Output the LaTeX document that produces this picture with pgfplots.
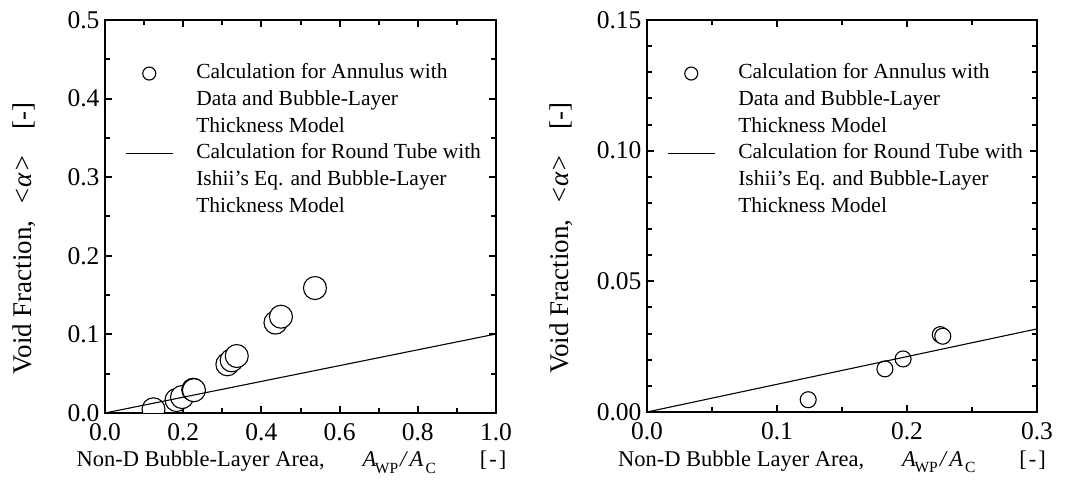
\documentclass[border=0pt]{standalone}
\usepackage{fontspec}
\setmainfont{Liberation Serif}
\usepackage{pgfplots}
\pgfplotsset{compat=1.18}

\newcommand{\subsc}[1]{\raisebox{-6.5pt}{\fontsize{15.5}{15.5}\selectfont #1}}
\newcommand{\AWPC}{\textit{A}\kern-1.5pt\subsc{WP}\kern2pt\textit{/}\kern1.5pt\textit{A}\kern2pt\subsc{C}}
\newcommand{\yl}{Void Fraction,\hspace{15pt}\textit{<α>}\hspace{25pt}[-]}

\pgfplotsset{
  mystyle/.style={
    scale only axis,
    axis line style={line width=2.2pt},
    every tick/.style={black, line width=2pt},
    major tick length=7pt,
    minor tick length=5pt,
    tick align=inside,
    xtick pos=both, ytick pos=both,
    /pgf/number format/assume math mode=true,
    /pgf/number format/fixed,
    /pgf/number format/fixed zerofill,
    tick label style={font=\fontsize{25.5}{30}\selectfont},
    xlabel style={font=\fontsize{22.5}{27}\selectfont},
    ylabel style={font=\fontsize{27}{32}\selectfont},
    xticklabel style={/pgf/number format/precision=1, yshift=-7pt},
    yticklabel style={xshift=-2pt},
    clip marker paths=true,
    legend cell align=left,
    legend style={draw=none, fill=none, inner sep=0pt, row sep=0pt, column sep=23pt,
      font=\fontsize{21.5}{26.7}\selectfont,
      nodes={inner sep=0pt, text height=18.7pt, text depth=8pt},
      at={(rel axis cs:0,1)}, anchor=north west, xshift=20pt, yshift=-40pt},
    legend image code/.code={\draw[mark repeat=2,mark phase=2,#1] plot coordinates {(0pt,0pt) (23.5pt,0pt) (47pt,0pt)};},
    legend image post style={mark size=6.5pt},
  }
}

\begin{document}
\begin{tikzpicture}
\useasboundingbox (0pt,0pt) rectangle (1076pt,503pt);

\begin{axis}[mystyle,
  at={(105pt,90pt)}, anchor=south west,
  width=391pt, height=393pt,
  xmin=0, xmax=1, ymin=0, ymax=0.5,
  xtick={0,0.2,...,1.0}, ytick={0,0.1,...,0.5},
  minor x tick num=1, minor y tick num=1,
  yticklabel style={/pgf/number format/precision=1},
  xlabel={Non-D Bubble-Layer Area,\hspace{38pt}\AWPC\hspace{44pt}[\kern2pt-\kern2pt]},
  xlabel style={at={([xshift=-9pt,yshift=-54pt]rel axis cs:0.5,0)}, anchor=base},
  ylabel={\yl},
  ylabel style={at={([xshift=-73pt]rel axis cs:0,0.444)}, anchor=base},
]
\addplot[black, only marks, mark=*, mark options={fill=white, draw=black, line width=1.1pt}, mark size=11.5pt]
coordinates {
(0.124,0.0047) (0.183,0.0165) (0.197,0.0203) (0.2256,0.0296) (0.2275,0.0290)
(0.313,0.062) (0.324,0.067) (0.337,0.0725) (0.436,0.115) (0.450,0.1225) (0.537,0.159)
};
\addlegendentry{Calculation for Annulus with}
\addlegendimage{empty legend}\addlegendentry{Data and Bubble-Layer}
\addlegendimage{empty legend}\addlegendentry{Thickness Model}
\addplot[black, line width=1.1pt, no marks] coordinates {(0,0) (1,0.1005)};
\addlegendentry{Calculation for Round Tube with}
\addlegendimage{empty legend}\addlegendentry{Ishii's Eq. and Bubble-Layer}
\addlegendimage{empty legend}\addlegendentry{Thickness Model}
\end{axis}

\begin{axis}[mystyle,
  at={(647pt,91pt)}, anchor=south west,
  width=390pt, height=392pt,
  xmin=0, xmax=0.3, ymin=0, ymax=0.15,
  xtick={0,0.1,0.2,0.3}, ytick={0,0.05,0.1,0.15},
  minor x tick num=1, minor y tick num=4,
  yticklabel style={/pgf/number format/precision=2},
  xlabel={Non-D Bubble Layer Area,\hspace{38pt}\AWPC\hspace{44pt}[\kern2pt-\kern2pt]},
  xlabel style={at={([xshift=-10pt,yshift=-54pt]rel axis cs:0.5,0)}, anchor=base},
  ylabel={\yl},
  ylabel style={at={([xshift=-79pt]rel axis cs:0,0.444)}, anchor=base},
]
\addplot[black, only marks, mark=*, mark options={fill=white, draw=black, line width=1.1pt}, mark size=8pt]
coordinates {
(0.124,0.0047) (0.183,0.0165) (0.197,0.0203) (0.2256,0.0296) (0.2275,0.0290)
};
\addlegendentry{Calculation for Annulus with}
\addlegendimage{empty legend}\addlegendentry{Data and Bubble-Layer}
\addlegendimage{empty legend}\addlegendentry{Thickness Model}
\addplot[black, line width=1.1pt, no marks] coordinates {(0,0) (0.3,0.0318)};
\addlegendentry{Calculation for Round Tube with}
\addlegendimage{empty legend}\addlegendentry{Ishii's Eq. and Bubble-Layer}
\addlegendimage{empty legend}\addlegendentry{Thickness Model}
\end{axis}
\end{tikzpicture}
\end{document}
